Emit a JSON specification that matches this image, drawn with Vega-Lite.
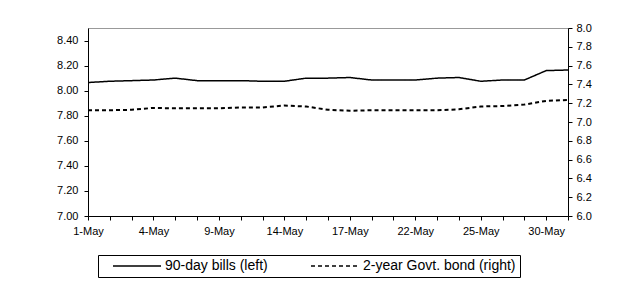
{
  "$schema": "https://vega.github.io/schema/vega-lite/v6.json",
  "width": 480,
  "height": 188,
  "autosize": {"type": "none"},
  "padding": {"left": 88, "top": 28, "right": 67, "bottom": 71},
  "background": "white",
  "config": {
    "font": "Liberation Sans",
    "view": {"stroke": "#999999", "strokeWidth": 1},
    "axis": {
      "labelFont": "Liberation Sans",
      "labelColor": "black",
      "domainColor": "black",
      "tickColor": "black",
      "grid": false,
      "title": null,
      "labelFontSize": 11
    },
    "legend": {
      "labelFont": "Liberation Sans",
      "labelColor": "black",
      "labelFontSize": 14
    }
  },
  "data": {
    "values": [
      {"date": "1-May", "bills": 8.065, "bond": 7.125},
      {"date": "2-May", "bills": 8.075, "bond": 7.125},
      {"date": "3-May", "bills": 8.08, "bond": 7.13},
      {"date": "4-May", "bills": 8.085, "bond": 7.15},
      {"date": "7-May", "bills": 8.1, "bond": 7.145},
      {"date": "8-May", "bills": 8.08, "bond": 7.145},
      {"date": "9-May", "bills": 8.08, "bond": 7.145},
      {"date": "10-May", "bills": 8.08, "bond": 7.155},
      {"date": "11-May", "bills": 8.075, "bond": 7.155},
      {"date": "14-May", "bills": 8.075, "bond": 7.175},
      {"date": "15-May", "bills": 8.1, "bond": 7.165},
      {"date": "16-May", "bills": 8.1, "bond": 7.13},
      {"date": "17-May", "bills": 8.105, "bond": 7.12},
      {"date": "18-May", "bills": 8.085, "bond": 7.125},
      {"date": "21-May", "bills": 8.085, "bond": 7.125},
      {"date": "22-May", "bills": 8.085, "bond": 7.125},
      {"date": "23-May", "bills": 8.1, "bond": 7.125},
      {"date": "24-May", "bills": 8.105, "bond": 7.135},
      {"date": "25-May", "bills": 8.075, "bond": 7.165},
      {"date": "28-May", "bills": 8.085, "bond": 7.17},
      {"date": "29-May", "bills": 8.085, "bond": 7.185},
      {"date": "30-May", "bills": 8.16, "bond": 7.225},
      {"date": "31-May", "bills": 8.165, "bond": 7.235}
    ]
  },
  "encoding": {
    "x": {
      "field": "date",
      "type": "ordinal",
      "sort": null,
      "scale": {"type": "point", "padding": 0},
      "axis": {
        "labelAngle": 0,
        "tickSize": 4,
        "labelPadding": 5,
        "labelExpr": "indexof(['1-May','4-May','9-May','14-May','17-May','22-May','25-May','30-May'], datum.value) >= 0 ? datum.value : ''"
      }
    }
  },
  "layer": [
    {
      "mark": {"type": "line", "color": "black", "strokeWidth": 1.5},
      "encoding": {
        "y": {
          "field": "bills",
          "type": "quantitative",
          "scale": {"domain": [7, 8.5], "zero": false, "nice": false},
          "axis": {
            "orient": "left",
            "values": [7, 7.2, 7.4, 7.6, 7.8, 8, 8.2, 8.4],
            "format": ".2f",
            "tickSize": 4,
            "labelPadding": 6
          }
        },
        "strokeDash": {
          "datum": "90-day bills (left)",
          "type": "nominal",
          "scale": {
            "domain": ["90-day bills (left)", "2-year Govt. bond (right)"],
            "range": [[1, 0], [4, 3]]
          },
          "legend": {
            "title": null,
            "orient": "none",
            "direction": "horizontal",
            "legendX": 10,
            "legendY": 227,
            "symbolType": "stroke",
            "symbolSize": 2304,
            "clipHeight": 14,
            "symbolStrokeWidth": 1.5,
            "symbolStrokeColor": "black",
            "strokeColor": "black",
            "padding": 4,
            "columnPadding": 32,
            "labelOffset": 3,
            "symbolOffset": 10
          }
        }
      }
    },
    {
      "mark": {"type": "line", "color": "black", "strokeWidth": 2},
      "encoding": {
        "y": {
          "field": "bond",
          "type": "quantitative",
          "scale": {"domain": [6, 8], "zero": false, "nice": false},
          "axis": {
            "orient": "right",
            "values": [6, 6.2, 6.4, 6.6, 6.8, 7, 7.2, 7.4, 7.6, 7.8, 8],
            "format": ".1f",
            "tickSize": 4,
            "labelPadding": 4
          }
        },
        "strokeDash": {"datum": "2-year Govt. bond (right)", "type": "nominal"}
      }
    }
  ],
  "resolve": {"scale": {"y": "independent"}}
}
